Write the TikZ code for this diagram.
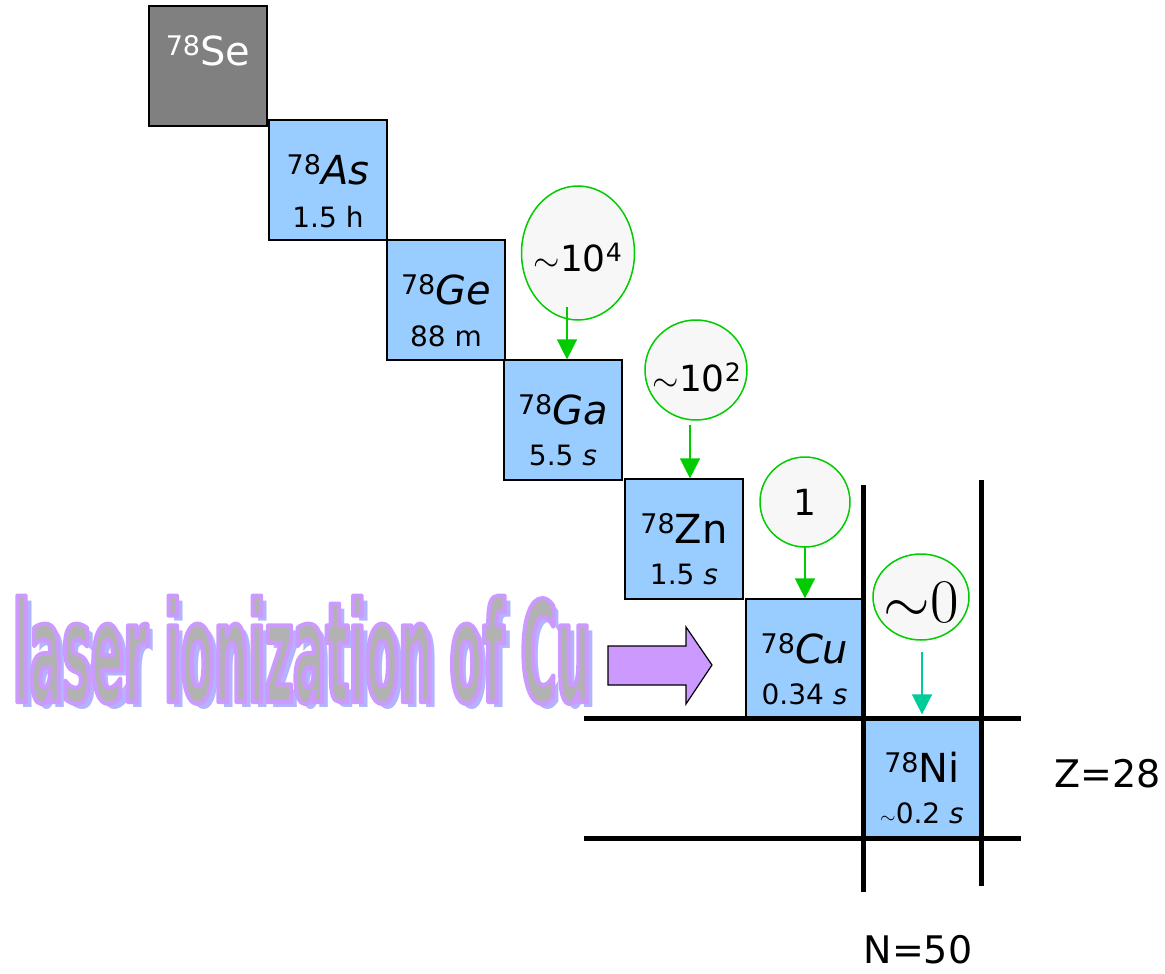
\documentclass[tikz,border=0pt]{standalone}
\usepackage{fontspec}
\newfontfamily\cs{DejaVu Sans}
\newfontfamily\lasfont[FakeStretch=0.345]{DejaVu Sans Bold}
\usetikzlibrary{calc,arrows.meta,shapes.geometric}
\definecolor{nucblue}{HTML}{99CCFF}
\definecolor{segray}{HTML}{808080}
\definecolor{ellgreen}{HTML}{00CC00}
\definecolor{ellfill}{HTML}{F7F7F7}
\definecolor{tealarrow}{HTML}{00CC99}
\definecolor{violetA}{HTML}{CC99FF}
\definecolor{lasgray}{HTML}{B2B2B2}
\definecolor{lasshadow}{HTML}{B3B3FF}
\newcommand\simx[1]{\scalebox{#1}{\fontsize{10}{12}\selectfont$\sim$}}
\newcommand\nsym[2]{\raisebox{10pt}{\fontsize{27}{27}\selectfont #1}{\fontsize{40}{40}\selectfont #2}}
\newcommand\nhl[1]{{\fontsize{28}{28}\selectfont #1}}
\newcommand\lastext{\fontsize{140}{140}\selectfont\lasfont laser ionization of Cu}
\newcommand\outlined[1]{\special{pdf:literal direct 2 Tr 4 w 0.8 0.6 1 RG 1 j}#1\special{pdf:literal direct 0 Tr}}
\begin{document}
\begin{tikzpicture}[x=1pt,y=-1pt,
  nuc/.style={draw, fill=nucblue, line width=1.2pt, minimum width=118pt, minimum height=120pt, inner sep=0pt},
  lbl/.style={font=\cs, inner sep=0pt, anchor=base},
  ell/.style={ellipse, draw=ellgreen, fill=ellfill, line width=1.5pt, inner sep=0pt},
  garrow/.style={draw=ellgreen, line width=1.5pt, -{Triangle[width=20pt,length=20pt]}},
  tarrow/.style={draw=tealarrow, line width=1.5pt, -{Triangle[width=20pt,length=20pt]}},
  thick line/.style={line width=5pt},
  las/.style={inner sep=0pt, anchor=base}]
\useasboundingbox (0,0) rectangle (1165,974);

% nuclide boxes
\node[nuc, fill=segray] (se) at (208,66) {};
\node[nuc] (as) at (328,180) {};
\node[nuc] (ge) at (446,300) {};
\node[nuc] (ga) at (563,420) {};
\node[nuc] (zn) at (684,539) {};
\node[nuc, minimum width=117pt, minimum height=119pt] (cu) at (804.5,658.5) {};
\node[nuc] (ni) at (922,778) {};

\node[lbl, text=white] (seS) at ($(se.north)+(0,60)$) {\nsym{78}{Se}};
\node[lbl] (asS) at ($(as.north)+(0,65)$) {\nsym{78}{\itshape As}};
\node[lbl] (asH) at ($(as.north)+(0,108)$) {\nhl{1.5 h}};
\node[lbl] (geS) at ($(ge.north)+(0,65)$) {\nsym{78}{\itshape Ge}};
\node[lbl] (geH) at ($(ge.north)+(0,107)$) {\nhl{88 m}};
\node[lbl] (gaS) at ($(ga.north)+(0,65)$) {\nsym{78}{\itshape Ga}};
\node[lbl] (gaH) at ($(ga.north)+(0,106)$) {\nhl{5.5 \textit{s}}};
\node[lbl] (znS) at ($(zn.north)+(0,65)$) {\nsym{78}{Zn}};
\node[lbl] (znH) at ($(zn.north)+(0,106)$) {\nhl{1.5 \textit{s}}};
\node[lbl] (cuS) at ($(cu.north)+(0,65)$) {\nsym{78}{\itshape Cu}};
\node[lbl] (cuH) at ($(cu.north)+(0,106)$) {\nhl{0.34 \textit{s}}};
\node[lbl] (niS) at ($(ni.north)+(0,65)$) {\nsym{78}{Ni}};
\node[lbl] (niH) at ($(ni.north)+(0,106)$) {\nhl{\simx{2}0.2 \textit{s}}};

% shell-closure lines
\coordinate (h1l) at (584,718); \coordinate (h1r) at (1021,718);
\coordinate (h2l) at (584,838); \coordinate (h2r) at (1021,838);
\coordinate (v1t) at (863,485); \coordinate (v1b) at (863,892);
\coordinate (v2t) at (981,480); \coordinate (v2b) at (981,886);
\draw[thick line] (h1l) -- (h1r);
\draw[thick line] (h2l) -- (h2r);
\draw[thick line] (v1t) -- (v1b);
\draw[thick line] (v2t) -- (v2b);

\node[lbl, anchor=center] (zlab) at (1108,774) {\fontsize{38}{38}\selectfont Z=28};
\node[lbl, anchor=center] (nlab) at (918,950) {\fontsize{38}{38}\selectfont N=50};

% yield ellipses
\node[ell, minimum width=113pt, minimum height=134pt] (e4) at (578,253) {};
\node[ell, minimum width=102pt, minimum height=100pt] (e2) at (696,370) {};
\node[ell, minimum width=90pt, minimum height=90pt] (e1) at (805,502) {};
\node[ell, minimum width=96pt, minimum height=86pt] (e0) at (921,597) {};
\node[lbl] (e4t) at (578,271) {\fontsize{36}{36}\selectfont\simx{3.4}10\textsuperscript{4}};
\node[lbl] (e2t) at (697,391) {\fontsize{36}{36}\selectfont\simx{3.4}10\textsuperscript{2}};
\node[lbl] (e1t) at (805,515) {\fontsize{36}{36}\selectfont 1};
\node[inner sep=0pt, anchor=base] (e0t) at (921,622) {\fontsize{62}{62}\selectfont\simx{6}0};

\coordinate (a4) at (567,307);
\coordinate (a2) at (690,425);
\coordinate (a1) at (805,547);
\coordinate (a0) at (922,652);
\draw[garrow] (a4) -- (a4 |- ga.north);
\draw[garrow] (a2) -- (a2 |- zn.north);
\draw[garrow] (a1) -- (a1 |- cu.north);
\draw[tarrow, shorten >=3pt] (a0) -- (a0 |- ni.north);

% laser arrow
\draw[fill=violetA, line width=1.2pt, line join=miter] (608,646) -- (686,646) -- (686,627) -- (712,665) -- (686,704) -- (686,685) -- (608,685) -- cycle;

% laser ionization text (shadow, then outlined text)
\node[las, text=lasshadow] (lasSh) at (308,707) {\lastext};
\node[las, text=lasgray] (lasT) at (302,702) {\outlined{\lastext}};
\end{tikzpicture}
\end{document}
